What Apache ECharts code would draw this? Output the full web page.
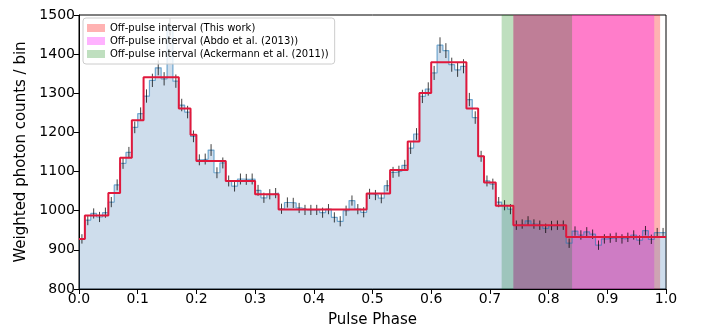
<!DOCTYPE html>
<html>
<head>
<meta charset="utf-8">
<script src="https://cdn.jsdelivr.net/npm/echarts@6/dist/echarts.min.js"></script>
<style>
  html, body { margin: 0; padding: 0; background: #fff; }
  #chart { width: 703px; height: 333px; }
</style>
</head>
<body>
<div id="chart"></div>
<script>
// histogram: 100 phase bins of width 0.01
const binWidth = 0.01;
const counts = [
  928, 976, 993, 984, 995, 1022, 1066, 1121, 1149, 1213,
  1248, 1293, 1333, 1365, 1337, 1470, 1331, 1270, 1252, 1190,
  1130, 1132, 1155, 1097, 1122, 1076, 1063, 1081, 1080, 1081,
  1052, 1033, 1042, 1045, 1005, 1021, 1020, 1007, 1002, 1002,
  1002, 995, 1004, 983, 973, 1000, 1026, 1004, 996, 1043,
  1040, 1032, 1064, 1098, 1101, 1116, 1160, 1196, 1292, 1311,
  1352, 1423, 1409, 1373, 1360, 1369, 1284, 1238, 1139, 1076,
  1068, 1022, 1014, 1004, 963, 966, 974, 966, 963, 955,
  962, 963, 963, 917, 948, 938, 946, 940, 912, 928,
  930, 932, 928, 932, 938, 925, 949, 927, 944, 944
];
const errors = [
  12, 13, 13, 13, 13, 13, 14, 14, 14, 15,
  16, 17, 17, 19, 17, 22, 17, 16, 16, 15,
  14, 14, 15, 14, 14, 14, 14, 14, 14, 14,
  14, 13, 13, 13, 13, 13, 13, 13, 13, 13,
  13, 13, 13, 13, 13, 13, 13, 13, 13, 13,
  13, 13, 14, 14, 14, 14, 15, 15, 17, 17,
  18, 20, 19, 18, 18, 18, 17, 16, 14, 14,
  14, 13, 13, 13, 12, 12, 12, 12, 12, 12,
  12, 12, 12, 12, 12, 12, 12, 12, 12, 12,
  12, 12, 12, 12, 12, 12, 12, 12, 12, 12
];

// Bayesian blocks (red step)
const blockEdges = [0, 0.01, 0.05, 0.07, 0.09, 0.11, 0.17, 0.19, 0.20, 0.25, 0.30, 0.34,
  0.49, 0.53, 0.56, 0.58, 0.60, 0.66, 0.68, 0.69, 0.71, 0.74, 0.83, 1.0];
const blockValues = [928, 988, 1045, 1135, 1231, 1341, 1261, 1194, 1127, 1076, 1042,
  1003, 1044, 1104, 1177, 1301, 1379, 1261, 1139, 1072, 1013, 963, 933];

// off-pulse intervals
const intervalNames = [
  "Off-pulse interval (This work)",
  "Off-pulse interval (Abdo et al. (2013))",
  "Off-pulse interval (Ackermann et al. (2011))"
];
const intervalRanges = [[0.74, 0.99], [0.74, 0.98], [0.72, 0.84]];
const intervalColors = ["rgba(255,0,0,0.3)", "rgba(255,0,255,0.3)", "rgba(0,128,0,0.25)"];

const yTicks = [800, 900, 1000, 1100, 1200, 1300, 1400, 1500];

const histLine = counts.map((c, i) => [i * binWidth, c]);
histLine.push([counts.length * binWidth, counts[counts.length - 1]]);

const blockLine = blockValues.map((v, i) => [blockEdges[i], v]);
blockLine.push([blockEdges[blockEdges.length - 1], blockValues[blockValues.length - 1]]);

const errData = counts.map((c, i) => [(i + 0.5) * binWidth, c, errors[i]]);

const chart = echarts.init(document.getElementById("chart"));

const series = [];
series.push({
  name: "hist",
  type: "line",
  data: histLine,
  step: "end",
  symbol: "none",
  lineStyle: { color: "rgba(31,119,180,0.6)", width: 1.2 },
  areaStyle: { color: "rgba(60,120,180,0.25)", opacity: 1, origin: "start" },
  z: 1,
  silent: true
});

intervalNames.forEach((name, k) => {
  series.push({
    name: name,
    type: "line",
    data: [],
    itemStyle: { color: intervalColors[k] },
    z: 2,
    markArea: {
      silent: true,
      itemStyle: { color: intervalColors[k] },
      data: [[{ xAxis: intervalRanges[k][0] }, { xAxis: intervalRanges[k][1] }]]
    }
  });
});

series.push({
  name: "err",
  type: "custom",
  data: errData,
  encode: { x: 0, y: 1 },
  z: 3,
  silent: true,
  clip: true,
  renderItem: (params, api) => {
    const x = api.value(0), y = api.value(1), e = api.value(2);
    const lo = api.coord([x, y - e]);
    const hi = api.coord([x, y + e]);
    return {
      type: "line",
      shape: { x1: lo[0], y1: lo[1], x2: hi[0], y2: hi[1] },
      style: { stroke: "rgba(0,0,0,0.75)", lineWidth: 1 }
    };
  }
});

series.push({
  name: "blocks",
  type: "line",
  data: blockLine,
  step: "end",
  symbol: "none",
  lineStyle: { color: "#e0183c", width: 2 },
  z: 4,
  silent: true
});

chart.setOption({
  animation: false,
  textStyle: { fontFamily: "DejaVu Sans" },
  grid: {
    left: 79, right: 37, top: 15, bottom: 42,
    show: true, borderColor: "#000", borderWidth: 1, backgroundColor: "transparent"
  },
  legend: {
    data: intervalNames,
    orient: "vertical",
    left: 83,
    top: 18,
    padding: [5, 6, 5, 4],
    itemWidth: 18,
    itemHeight: 8,
    itemGap: 3,
    icon: "rect",
    backgroundColor: "rgba(255,255,255,0.8)",
    borderColor: "#cccccc",
    borderWidth: 1,
    borderRadius: 3,
    textStyle: { fontSize: 10, color: "#000", fontFamily: "DejaVu Sans" },
    z: 10
  },
  xAxis: {
    type: "value",
    min: 0,
    max: 1,
    interval: 0.1,
    name: "Pulse Phase",
    nameLocation: "middle",
    nameGap: 24,
    nameTextStyle: { fontSize: 15, color: "#000" },
    axisLine: { show: true, onZero: false, lineStyle: { color: "#000" } },
    axisTick: { show: true, length: 5, lineStyle: { color: "#000" } },
    axisLabel: { fontSize: 14, color: "#000", margin: 3, formatter: v => v.toFixed(1) },
    splitLine: { show: false }
  },
  yAxis: {
    type: "value",
    min: yTicks[0],
    max: yTicks[yTicks.length - 1],
    interval: 100,
    name: "Weighted photon counts / bin",
    nameLocation: "middle",
    nameGap: 47,
    nameTextStyle: { fontSize: 15, color: "#000" },
    axisLine: { show: true, lineStyle: { color: "#000" } },
    axisTick: { show: true, length: 5, lineStyle: { color: "#000" } },
    axisLabel: { fontSize: 14, color: "#000", margin: 4, formatter: v => String(v) },
    splitLine: { show: false }
  },
  series: series
});
</script>
</body>
</html>
